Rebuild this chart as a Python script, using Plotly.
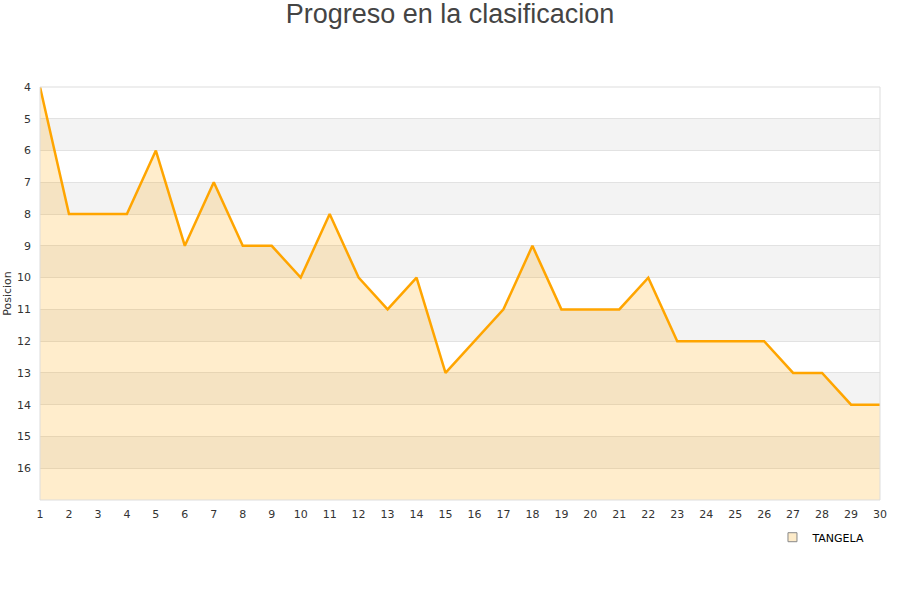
import plotly.graph_objects as go

jornadas = list(range(1, 31))
posiciones = [4, 8, 8, 8, 6, 9, 7, 9, 9, 10, 8, 10, 11, 10, 13, 12, 11, 9, 11, 11,
              11, 10, 12, 12, 12, 12, 13, 13, 14, 14]
y_ticks = list(range(4, 17))
team = "TANGELA"
title = "Progreso en la clasificacion"
y_title = "Posicion"
y_bottom = 17

fig = go.Figure()
fig.add_trace(go.Scatter(x=jornadas, y=[y_bottom] * len(jornadas), mode="lines",
                         line=dict(width=0), showlegend=False, hoverinfo="skip"))
fig.add_trace(go.Scatter(x=jornadas, y=posiciones, mode="lines", fill="tonexty",
                         fillcolor="rgba(255,165,0,0.2)",
                         line=dict(color="#ffa500", width=2.5), showlegend=False))
fig.add_trace(go.Scatter(x=[None], y=[None], mode="markers", name=team,
                         marker=dict(symbol="square", size=9, color="#fdebc9",
                                     line=dict(color="#888", width=1))))

shapes = []
for lo in range(5, 17, 2):
    shapes.append(dict(type="rect", xref="paper", yref="y", x0=0, x1=1, y0=lo, y1=lo + 1,
                       fillcolor="#f3f3f3", line=dict(width=0), layer="below"))
shapes.append(dict(type="rect", xref="paper", yref="paper", x0=0, x1=1, y0=0, y1=1,
                   line=dict(color="#dddddd", width=1), layer="above"))

fig.update_layout(
    width=900, height=600,
    margin=dict(l=40, r=20, t=87, b=100, autoexpand=False),
    paper_bgcolor="white", plot_bgcolor="white",
    title=dict(text=title, x=0.5, xanchor="center", yref="container", y=1 - 4 / 600,
               yanchor="top",
               font=dict(family="Liberation Sans, Arial", size=27, color="#444")),
    shapes=shapes,
    showlegend=True,
    legend=dict(orientation="h", x=0.872, y=-0.055, xanchor="left", yanchor="top",
                font=dict(family="DejaVu Sans", size=11, color="#000"),
                bgcolor="rgba(0,0,0,0)"),
    font=dict(family="DejaVu Sans", size=11, color="#333"),
)
fig.update_xaxes(range=[1, 30], tickmode="array", tickvals=jornadas, showgrid=False,
                 zeroline=False, showline=False, ticks="", ticklabelstandoff=6,
                 tickfont=dict(size=11, color="#333"))
fig.update_yaxes(range=[y_bottom, 4], tickmode="array", tickvals=y_ticks, showgrid=True,
                 gridcolor="#e2e2e2", gridwidth=1, zeroline=False, showline=False,
                 ticks="", ticklabelstandoff=8, tickfont=dict(size=11, color="#333"),
                 title=dict(text=y_title, font=dict(size=11, color="#333"), standoff=3))

fig.write_html("out.html", config={"displayModeBar": False},
               post_script="document.body.style.margin='0';")
